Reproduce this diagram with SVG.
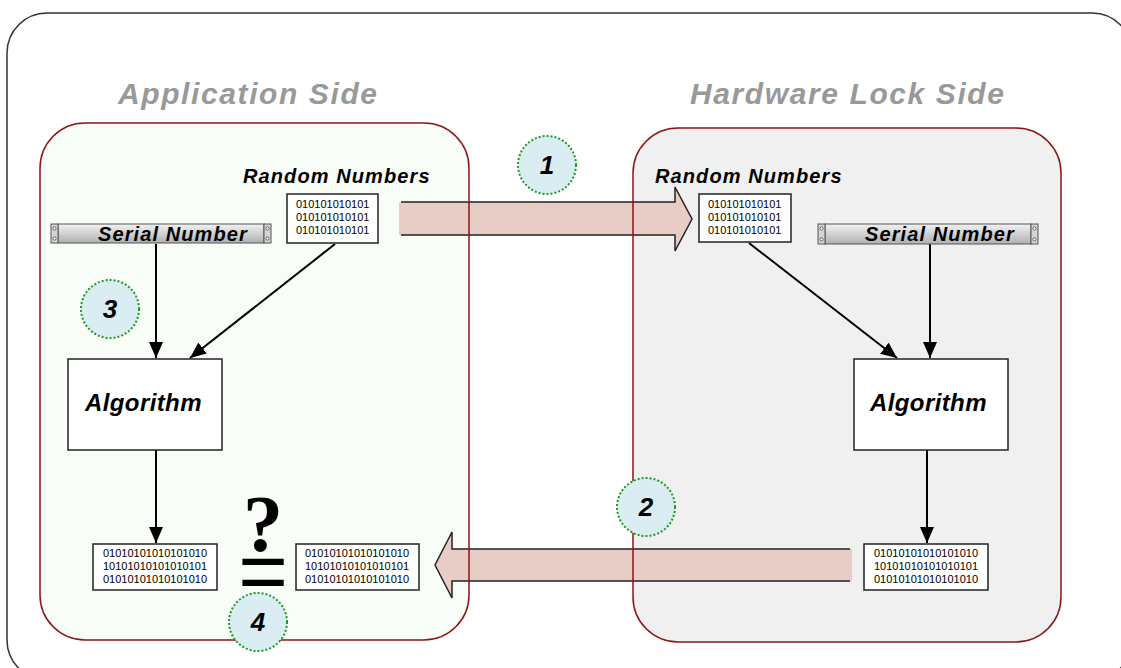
<svg xmlns="http://www.w3.org/2000/svg" width="1121" height="668" viewBox="0 0 1121 668">
  <defs>
    <style>
      .frame { fill: #ffffff; stroke: #333333; stroke-width: 1.5; }
      .panel-line { fill: none; stroke: #8b1414; stroke-width: 1.5; }
      .title { font-family: "Liberation Sans", Arial, sans-serif; font-weight: bold; font-style: italic; font-size: 30px; fill: #999999; letter-spacing: 1.6px; }
      .label { font-family: "Liberation Sans", Arial, sans-serif; font-weight: bold; font-style: italic; font-size: 20px; fill: #000000; letter-spacing: 1.1px; }
      .algo-text { font-family: "Liberation Sans", Arial, sans-serif; font-weight: bold; font-style: italic; font-size: 24px; fill: #000000; letter-spacing: 0.4px; }
      .bits { font-family: "Liberation Sans", Arial, sans-serif; font-size: 11px; fill: #000000; }
      .box { fill: #ffffff; stroke: #222222; stroke-width: 1.5; }
      .wire { fill: none; stroke: #000000; stroke-width: 2; }
      .big-arrow { fill: #e8cdc6; stroke: none; }
      .big-arrow-edge { fill: none; stroke: #222222; stroke-width: 1.5; stroke-linejoin: miter; }
      .badge { fill: #d9edf3; stroke: #1e9a1e; stroke-width: 2; stroke-dasharray: 2 2; }
      .badge-num { font-family: "Liberation Sans", Arial, sans-serif; font-weight: bold; font-style: italic; font-size: 26px; fill: #000000; text-anchor: middle; }
      .bar { fill: url(#barShade); stroke: #555555; stroke-width: 1; }
      .cap { fill: #d4d4d4; stroke: #555555; stroke-width: 1; }
      .screw { fill: #ffffff; stroke: #444444; stroke-width: 0.8; }
    </style>
    <linearGradient id="barShade" x1="0" y1="0" x2="0" y2="1">
      <stop offset="0" stop-color="#f2f2f2"/>
      <stop offset="1" stop-color="#b0b0b0"/>
    </linearGradient>
    <marker id="head" markerUnits="userSpaceOnUse" markerWidth="16" markerHeight="14" refX="16" refY="7" orient="auto">
      <path d="M0,0 L16,7 L0,14 Z" fill="#000000"/>
    </marker>
  </defs>

  <!-- outer frame -->
  <rect class="frame" x="7" y="13" width="1125" height="667" rx="40" ry="40"/>

  <!-- side panels: fills -->
  <g id="panel-fills">
    <rect x="40" y="123" width="429" height="517" rx="45" ry="45" fill="#f8fdf8"/>
    <rect x="633" y="128" width="428" height="514" rx="45" ry="45" fill="#f0f0f0"/>
  </g>

  <!-- transfer arrows between the two sides -->
  <g id="transfer-arrows">
    <g id="arrow-request">
      <polygon class="big-arrow" points="399,202 675,202 675,187 692,219 675,251 675,235 399,235"/>
      <polyline class="big-arrow-edge" points="401,202 675,202 675,187 692,219 675,251 675,235 401,235"/>
    </g>
    <g id="arrow-response">
      <polygon class="big-arrow" points="852,549 452,549 452,532 435,565 452,598 452,581 852,581"/>
      <polyline class="big-arrow-edge" points="850,549 452,549 452,532 435,565 452,598 452,581 850,581"/>
    </g>
  </g>

  <!-- side panels: outlines -->
  <g id="panel-outlines">
    <rect class="panel-line" x="40" y="123" width="429" height="517" rx="45" ry="45"/>
    <rect class="panel-line" x="633" y="128" width="428" height="514" rx="45" ry="45"/>
  </g>

  <!-- titles -->
  <text class="title" x="118" y="104">Application Side</text>
  <text class="title" x="690" y="104">Hardware Lock Side</text>

  <!-- connectors -->
  <g id="connectors">
    <line class="wire" x1="156" y1="244" x2="156" y2="358" marker-end="url(#head)"/>
    <line class="wire" x1="335" y1="244" x2="190" y2="358" marker-end="url(#head)"/>
    <line class="wire" x1="156" y1="450" x2="156" y2="543" marker-end="url(#head)"/>
    <line class="wire" x1="749" y1="243" x2="897" y2="358" marker-end="url(#head)"/>
    <line class="wire" x1="930" y1="244" x2="930" y2="358" marker-end="url(#head)"/>
    <line class="wire" x1="927" y1="450" x2="927" y2="543" marker-end="url(#head)"/>
  </g>

  <!-- application side -->
  <g id="app-random">
    <text class="label" x="243" y="183">Random Numbers</text>
    <rect class="box" x="287" y="194" width="91" height="49"/>
    <text class="bits" x="296" y="208">010101010101</text>
    <text class="bits" x="296" y="221">010101010101</text>
    <text class="bits" x="296" y="234">010101010101</text>
  </g>

  <g id="app-serial">
    <rect class="bar" x="58" y="224" width="206" height="19"/>
    <rect class="cap" x="51" y="224" width="7" height="19"/>
    <rect class="cap" x="264" y="224" width="7" height="19"/>
    <circle class="screw" cx="54.5" cy="228.5" r="1.6"/>
    <circle class="screw" cx="54.5" cy="238.5" r="1.6"/>
    <circle class="screw" cx="267.5" cy="228.5" r="1.6"/>
    <circle class="screw" cx="267.5" cy="238.5" r="1.6"/>
    <text class="label" x="98" y="241">Serial Number</text>
  </g>

  <g id="app-algorithm">
    <rect class="box" x="68" y="359" width="154" height="91"/>
    <text class="algo-text" x="85" y="411">Algorithm</text>
  </g>

  <g id="app-result">
    <rect class="box" x="93" y="544" width="124" height="46"/>
    <text class="bits" x="103" y="557">01010101010101010</text>
    <text class="bits" x="103" y="570">10101010101010101</text>
    <text class="bits" x="103" y="583">01010101010101010</text>
  </g>

  <!-- "is it equal?" sign between the two results -->
  <g id="compare-sign">
    <text text-anchor="middle" fill="#000000"><tspan x="263" y="551" font-family="Liberation Serif, 'Times New Roman', serif" font-weight="bold" font-size="80">?</tspan><tspan x="263" y="600" font-family="Liberation Sans, Arial, sans-serif" font-size="85">=</tspan></text>
  </g>

  <g id="received-result">
    <rect class="box" x="296" y="544" width="123" height="46"/>
    <text class="bits" x="305" y="557">01010101010101010</text>
    <text class="bits" x="305" y="570">10101010101010101</text>
    <text class="bits" x="305" y="583">01010101010101010</text>
  </g>

  <!-- hardware lock side -->
  <g id="lock-random">
    <text class="label" x="655" y="183">Random Numbers</text>
    <rect class="box" x="699" y="194" width="92" height="48"/>
    <text class="bits" x="708" y="208">010101010101</text>
    <text class="bits" x="708" y="221">010101010101</text>
    <text class="bits" x="708" y="234">010101010101</text>
  </g>

  <g id="lock-serial">
    <rect class="bar" x="825" y="224" width="206" height="20"/>
    <rect class="cap" x="818" y="224" width="7" height="20"/>
    <rect class="cap" x="1031" y="224" width="7" height="20"/>
    <circle class="screw" cx="821.5" cy="228.5" r="1.6"/>
    <circle class="screw" cx="821.5" cy="239.5" r="1.6"/>
    <circle class="screw" cx="1034.5" cy="228.5" r="1.6"/>
    <circle class="screw" cx="1034.5" cy="239.5" r="1.6"/>
    <text class="label" x="865" y="241">Serial Number</text>
  </g>

  <g id="lock-algorithm">
    <rect class="box" x="854" y="359" width="154" height="91"/>
    <text class="algo-text" x="870" y="411">Algorithm</text>
  </g>

  <g id="lock-result">
    <rect class="box" x="864" y="544" width="124" height="46"/>
    <text class="bits" x="874" y="557">01010101010101010</text>
    <text class="bits" x="874" y="570">10101010101010101</text>
    <text class="bits" x="874" y="583">01010101010101010</text>
  </g>

  <!-- step badges -->
  <g id="step-1">
    <circle class="badge" cx="547" cy="165" r="29"/>
    <text class="badge-num" x="547" y="174">1</text>
  </g>
  <g id="step-2">
    <circle class="badge" cx="646" cy="507" r="29"/>
    <text class="badge-num" x="646" y="516">2</text>
  </g>
  <g id="step-3">
    <circle class="badge" cx="110" cy="309" r="29"/>
    <text class="badge-num" x="110" y="318">3</text>
  </g>
  <g id="step-4">
    <circle class="badge" cx="258" cy="622" r="29"/>
    <text class="badge-num" x="258" y="631">4</text>
  </g>
</svg>
